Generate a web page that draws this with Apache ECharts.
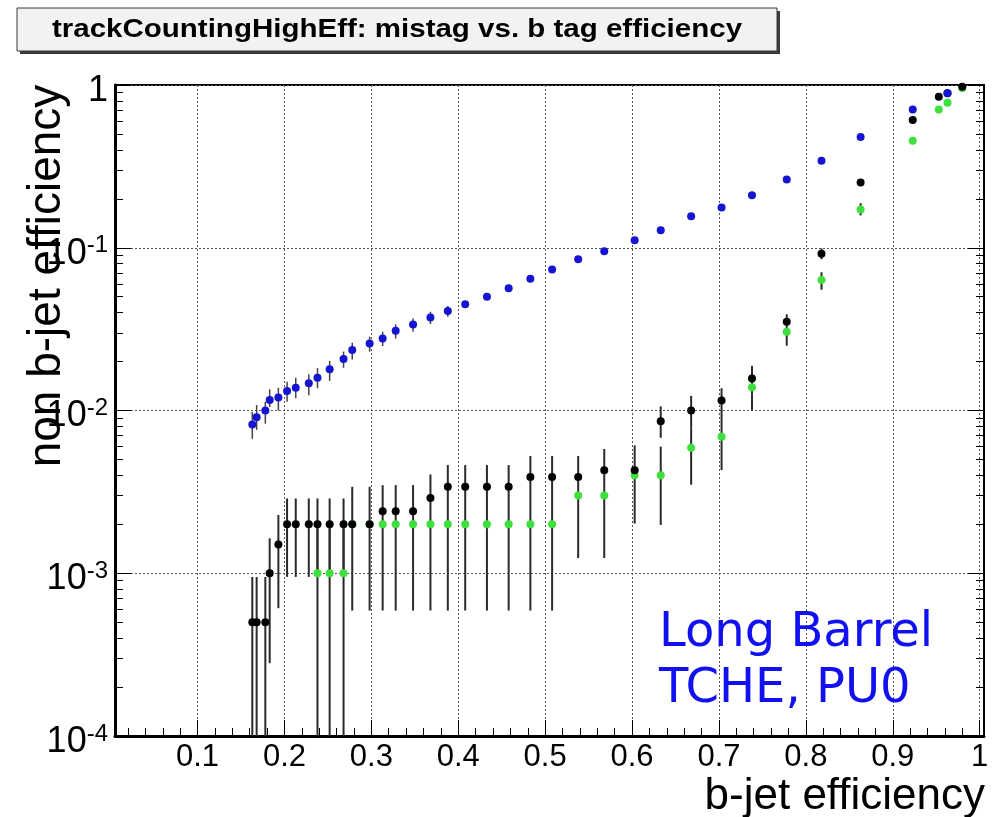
<!DOCTYPE html>
<html>
<head>
<meta charset="utf-8">
<script src="https://cdn.jsdelivr.net/npm/echarts@6/dist/echarts.min.js"></script>
<style>
  html, body { margin: 0; padding: 0; background: #fff; }
  #chart { width: 992px; height: 817px; }
</style>
</head>
<body>
<div id="chart"></div>
<script>
// b-jet efficiency of each working point (shared by all three curves)
const bEff = [
  0.163, 0.168, 0.178, 0.183, 0.193, 0.203, 0.213, 0.228, 0.238, 0.252,
  0.268, 0.278, 0.298, 0.313, 0.328, 0.348, 0.368, 0.388, 0.408, 0.433,
  0.458, 0.483, 0.508, 0.538, 0.568, 0.603, 0.633, 0.668, 0.703, 0.738,
  0.778, 0.818, 0.863, 0.923, 0.953, 0.963, 0.980
];

// non b-jet efficiency, blue curve
const nonBEffBlue = [
  0.0082, 0.0091, 0.0100, 0.0116, 0.0120, 0.0132, 0.0138, 0.0147, 0.0159, 0.0179,
  0.0207, 0.0235, 0.0258, 0.0277, 0.0309, 0.0338, 0.0373, 0.0408, 0.0449, 0.0500,
  0.0563, 0.0645, 0.0736, 0.0849, 0.0951, 0.111, 0.128, 0.156, 0.177, 0.210,
  0.263, 0.343, 0.479, 0.708, null, 0.889, null
];
const blueErrLo = [
  0.0067, 0.0076, 0.0083, 0.0105, 0.0100, 0.0113, 0.0119, 0.0124, 0.0137, 0.0152,
  0.0183, 0.0206, 0.0230, 0.0249, 0.0277, 0.0305, 0.0340, 0.0377, null, null,
  null, null, null, null, null, null, null, null, null, null,
  null, null, null, null, null, null, null
];
const blueErrHi = [
  0.0098, 0.0108, 0.0113, 0.0135, 0.0138, 0.0150, 0.0159, 0.0167, 0.0182, 0.0202,
  0.0230, 0.0261, 0.0284, 0.0305, 0.0338, 0.0368, 0.0404, 0.0439, null, null,
  null, null, null, null, null, null, null, null, null, null,
  null, null, null, null, null, null, null
];

// non b-jet efficiency, black curve
const nonBEffBlack = [
  0.0005, 0.0005, 0.0005, 0.0010, 0.0015, 0.0020, 0.0020, 0.0020, 0.0020, 0.0020,
  0.0020, 0.0020, 0.0020, 0.0024, 0.0024, 0.0024, 0.0029, 0.0034, 0.0034, 0.0034,
  0.0034, 0.0039, 0.0039, 0.0039, 0.0043, 0.0043, 0.0086, 0.0100, 0.0115, 0.0157,
  0.0351, 0.0919, 0.252, 0.609, 0.847, 0.889, 0.975
];
const blackErrLo = [
  0.00001, 0.00001, 0.00001, 0.00028, 0.00061, 0.00095, 0.00095, 0.00095, 0.00095, 0.00095,
  0.00095, 0.00059, 0.00059, 0.00059, 0.00059, 0.00059, 0.00059, 0.00059, 0.00059, 0.00059,
  0.00059, 0.00059, 0.00059, 0.00124, 0.00124, 0.00202, 0.0068, 0.0079, 0.0090, 0.0125,
  0.031, 0.085, null, null, null, null, null
];
const blackErrHi = [
  0.00095, 0.00095, 0.00095, 0.00164, 0.00228, 0.00288, 0.00288, 0.00288, 0.00288, 0.00288,
  0.00288, 0.0034, 0.0034, 0.00348, 0.00348, 0.00348, 0.00405, 0.00462, 0.00462, 0.00462,
  0.00462, 0.00525, 0.00525, 0.00525, 0.0058, 0.0061, 0.0106, 0.0123, 0.0137, 0.0188,
  0.039, 0.099, null, null, null, null, null
];

// non b-jet efficiency, green curve
const nonBEffGreen = [
  null, null, null, null, null, null, null, null, 0.0010, 0.0010,
  0.0010, 0.0020, 0.0020, 0.0020, 0.0020, 0.0020, 0.0020, 0.0020, 0.0020, 0.0020,
  0.0020, 0.0020, 0.0020, 0.0030, 0.0030, 0.0040, 0.0040, 0.0059, 0.0069, 0.0139,
  0.0305, 0.0633, 0.172, 0.455, 0.708, 0.778, 0.960
];
const greenErrLo = [
  null, null, null, null, null, null, null, null, 0.00001, 0.00001,
  0.00001, null, null, null, null, null, null, null, null, null,
  null, null, null, null, null, null, 0.00198, 0.0035, 0.0043, 0.0100,
  0.025, 0.0552, 0.158, null, null, null, null
];
const greenErrHi = [
  null, null, null, null, null, null, null, null, 0.0020, 0.0020,
  0.0020, null, null, null, null, null, null, null, null, null,
  null, null, null, null, null, null, 0.0060, 0.0079, 0.0090, 0.0125,
  0.031, 0.0707, 0.188, null, null, null, null
];

// axis tick labels
const xTickValues = [0.1, 0.2, 0.3, 0.4, 0.5, 0.6, 0.7, 0.8, 0.9, 1.0];
const yTickValues = [1e-4, 1e-3, 1e-2, 1e-1, 1];

const titleText = 'trackCountingHighEff: mistag vs. b tag efficiency';
const xTitle = 'b-jet efficiency';
const yTitle = 'non b-jet efficiency';
const noteLines = ['Long Barrel', 'TCHE, PU0'];

// minor tick positions
const xMinorTicks = [];
for (let k = 1; k <= 50; k++) xMinorTicks.push(+(k * 0.02).toFixed(2));
const yMinorTicks = [];
for (let e = -4; e < 0; e++) for (let m = 2; m <= 9; m++) yMinorTicks.push(m * Math.pow(10, e));

const X_MIN = 0.005, X_MAX = 1.005;
const FONT = '"Liberation Sans", Arial, Helvetica, sans-serif';

function points(vals) {
  const out = [];
  bEff.forEach((x, i) => { if (vals[i] != null) out.push([x, vals[i]]); });
  return out;
}

function errorBars(lo, hi, color, width, z) {
  const data = [];
  bEff.forEach((x, i) => { if (lo[i] != null && hi[i] != null) data.push([x, lo[i], hi[i]]); });
  return {
    type: 'custom',
    xAxisIndex: 0,
    yAxisIndex: 0,
    clip: true,
    silent: true,
    z: z,
    data: data,
    renderItem: function (params, api) {
      const a = api.coord([api.value(0), api.value(1)]);
      const b = api.coord([api.value(0), api.value(2)]);
      return {
        type: 'line',
        shape: { x1: a[0], y1: a[1], x2: b[0], y2: b[1] },
        style: { stroke: color, lineWidth: width }
      };
    }
  };
}

function scatter(vals, color, z) {
  return {
    type: 'scatter',
    xAxisIndex: 0,
    yAxisIndex: 0,
    symbol: 'circle',
    symbolSize: 8,
    z: z,
    silent: true,
    itemStyle: { color: color, opacity: 1 },
    data: points(vals)
  };
}

const gridDotted = { show: true, lineStyle: { color: '#555', width: 1, type: [2, 2] } };

const chart = echarts.init(document.getElementById('chart'), null, { renderer: 'canvas' });

chart.setOption({
  backgroundColor: '#ffffff',
  animation: false,
  grid: {
    left: 115, top: 85, width: 869, height: 651,
    show: true, borderColor: '#000', borderWidth: 2, backgroundColor: 'transparent'
  },
  xAxis: [
    {
      type: 'value', min: X_MIN, max: X_MAX, position: 'bottom',
      axisLine: { show: true, onZero: false, lineStyle: { color: '#000', width: 3 } },
      axisTick: { show: true, inside: true, length: 16, customValues: xTickValues, lineStyle: { color: '#000', width: 1 } },
      axisLabel: {
        show: true, customValues: xTickValues, margin: 6,
        fontFamily: FONT, fontSize: 31, color: '#000',
        formatter: v => (Math.abs(v - 1) < 1e-9 ? '1' : v.toFixed(1))
      },
      splitLine: gridDotted
    },
    {
      type: 'value', min: X_MIN, max: X_MAX, position: 'bottom',
      axisLine: { show: false },
      axisTick: { show: true, inside: true, length: 8, customValues: xMinorTicks, lineStyle: { color: '#000', width: 1 } },
      axisLabel: { show: false },
      splitLine: { show: false }
    }
  ],
  yAxis: [
    {
      type: 'log', logBase: 10, min: 1e-4, max: 1, position: 'left',
      axisLine: { show: true, onZero: false, lineStyle: { color: '#000', width: 3 } },
      axisTick: { show: true, inside: true, length: 16, customValues: yTickValues, lineStyle: { color: '#000', width: 1 } },
      axisLabel: {
        show: true, customValues: yTickValues, margin: 7, padding: [12, 0, 0, 0],
        formatter: v => {
          const e = Math.round(Math.log10(v));
          return e === 0 ? '{b|1}' : '{b|10}{s|' + e + '}';
        },
        rich: {
          b: { fontFamily: FONT, fontSize: 36, color: '#000', lineHeight: 40 },
          s: { fontFamily: FONT, fontSize: 24, color: '#000', lineHeight: 12, verticalAlign: 'top' }
        }
      },
      splitLine: gridDotted
    },
    {
      type: 'log', logBase: 10, min: 1e-4, max: 1, position: 'left',
      axisLine: { show: false },
      axisTick: { show: true, inside: true, length: 8, customValues: yMinorTicks, lineStyle: { color: '#000', width: 1 } },
      axisLabel: { show: false },
      splitLine: { show: false }
    },
    {
      type: 'log', logBase: 10, min: 1e-4, max: 1, position: 'right',
      axisLine: { show: false },
      axisTick: { show: true, inside: true, length: 16, customValues: yTickValues, lineStyle: { color: '#000', width: 1 } },
      axisLabel: { show: false },
      splitLine: { show: false }
    },
    {
      type: 'log', logBase: 10, min: 1e-4, max: 1, position: 'right',
      axisLine: { show: false },
      axisTick: { show: true, inside: true, length: 8, customValues: yMinorTicks, lineStyle: { color: '#000', width: 1 } },
      axisLabel: { show: false },
      splitLine: { show: false }
    }
  ],
  series: [
    errorBars(blackErrLo, blackErrHi, '#2a2a2a', 2, 2),
    errorBars(greenErrLo, greenErrHi, '#2a2a2a', 2, 2),
    errorBars(blueErrLo, blueErrHi, '#444', 1.5, 2),
    scatter(nonBEffGreen, '#3ee03e', 3),
    scatter(nonBEffBlack, '#000000', 4),
    scatter(nonBEffBlue, '#1414d2', 5)
  ],
  graphic: [
    // title box with drop shadow
    { type: 'rect', z: 10, shape: { x: 20, y: 11, width: 760, height: 43 }, style: { fill: '#3a3a3a' } },
    { type: 'rect', z: 11, shape: { x: 17, y: 8, width: 760, height: 43 }, style: { fill: '#f2f2f2', stroke: '#3a3a3a', lineWidth: 1 } },
    {
      type: 'text', z: 12, x: 397, y: 30, scaleX: 1.18,
      style: { text: titleText, font: 'bold 25px ' + FONT, fill: '#000', align: 'center', verticalAlign: 'middle' }
    },
    {
      type: 'text', z: 12, x: 985, y: 797,
      style: { text: xTitle, font: '44px ' + FONT, fill: '#000', align: 'right', verticalAlign: 'middle' }
    },
    {
      type: 'text', z: 12, x: 47, y: 276, rotation: Math.PI / 2,
      style: { text: yTitle, font: '46px ' + FONT, fill: '#000', align: 'center', verticalAlign: 'middle' }
    },
    {
      type: 'text', z: 12, x: 659, y: 634,
      style: { text: noteLines[0], font: '48px "DejaVu Sans", sans-serif', fill: '#1010f0', align: 'left', verticalAlign: 'middle' }
    },
    {
      type: 'text', z: 12, x: 659, y: 690,
      style: { text: noteLines[1], font: '48px "DejaVu Sans", sans-serif', fill: '#1010f0', align: 'left', verticalAlign: 'middle' }
    }
  ]
});
</script>
</body>
</html>
